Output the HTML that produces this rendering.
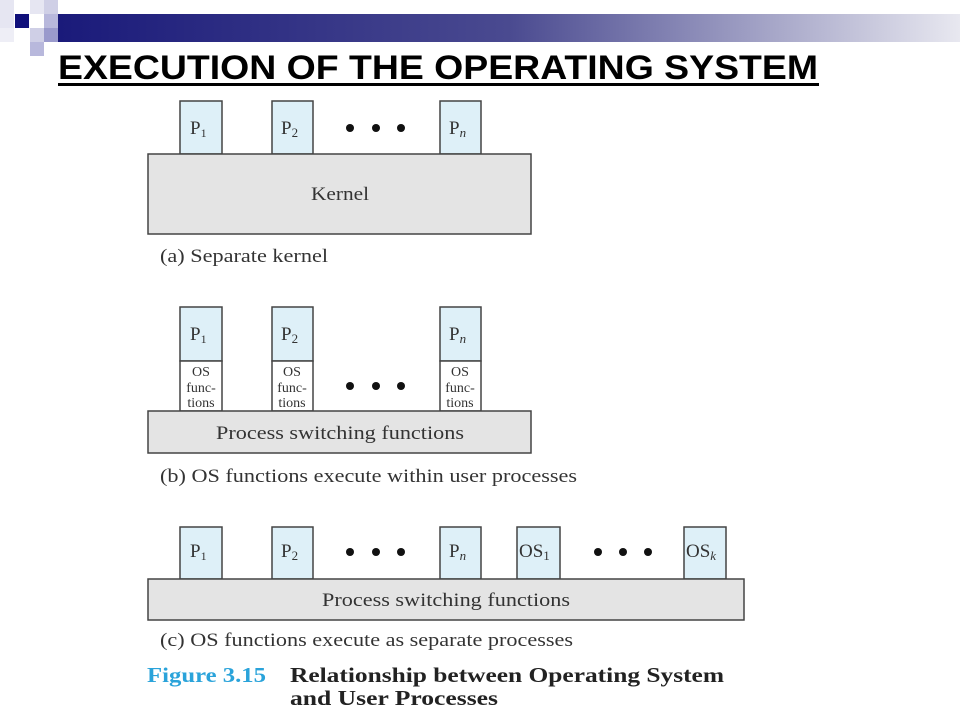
<!DOCTYPE html>
<html><head><meta charset="utf-8"><style>
html,body{margin:0;padding:0;background:#fff;}
svg{display:block}
</style></head><body>
<svg width="960" height="720" viewBox="0 0 960 720" xmlns="http://www.w3.org/2000/svg">
<defs>
<linearGradient id="g" x1="0" x2="1" y1="0" y2="0">
<stop offset="0" stop-color="#1a1a7a"/>
<stop offset="0.5" stop-color="#4a4a90"/>
<stop offset="1" stop-color="#e8e8f0"/>
</linearGradient>
</defs>
<rect x="58" y="14" width="902" height="28" fill="url(#g)"/>
<rect x="0" y="0" width="14" height="14" fill="#e6e6f2"/>
<rect x="30" y="0" width="14" height="14" fill="#e6e6f2"/>
<rect x="44" y="0" width="14" height="14" fill="#cfcfe6"/>
<rect x="0" y="14" width="14" height="14" fill="#e6e6f2"/>
<rect x="15" y="14" width="14" height="14" fill="#10107a"/>
<rect x="44" y="14" width="14" height="14" fill="#b8b8dc"/>
<rect x="30" y="28" width="14" height="14" fill="#cfcfe6"/>
<rect x="44" y="28" width="14" height="14" fill="#9a9acc"/>
<rect x="30" y="42" width="14" height="14" fill="#b8b8dc"/>
<rect x="0" y="28" width="14" height="14" fill="#eeeef6"/>
<text x="58" y="79" font-family="Liberation Sans, sans-serif" font-weight="bold" font-size="34" fill="#000" textLength="760" lengthAdjust="spacingAndGlyphs">EXECUTION OF THE OPERATING SYSTEM</text>
<rect x="58" y="83" width="761" height="3" fill="#000"/>

<g font-family="Liberation Serif, serif" fill="#333" stroke="none">
<!-- (a) -->
<g stroke="#444" stroke-width="1.5">
<rect x="180" y="101" width="42" height="53" fill="#def0f8"/>
<rect x="272" y="101" width="41" height="53" fill="#def0f8"/>
<rect x="440" y="101" width="41" height="53" fill="#def0f8"/>
<rect x="148" y="154" width="383" height="80" fill="#e4e4e4"/>
</g>
<text x="190" y="134" font-size="19">P<tspan font-size="12" dy="3">1</tspan></text>
<text x="281" y="134" font-size="19">P<tspan font-size="13" dy="3">2</tspan></text>
<text x="449" y="134" font-size="19">P<tspan font-size="13" dy="3" font-style="italic">n</tspan></text>
<circle cx="350" cy="128" r="4" fill="#111"/><circle cx="376" cy="128" r="4" fill="#111"/><circle cx="401" cy="128" r="4" fill="#111"/>
<text x="311" y="200" font-size="19" textLength="58" lengthAdjust="spacingAndGlyphs">Kernel</text>
<text x="160" y="262" font-size="19" textLength="168" lengthAdjust="spacingAndGlyphs">(a) Separate kernel</text>

<!-- (b) -->
<g stroke="#444" stroke-width="1.5">
<rect x="180" y="307" width="42" height="54" fill="#def0f8"/>
<rect x="272" y="307" width="41" height="54" fill="#def0f8"/>
<rect x="440" y="307" width="41" height="54" fill="#def0f8"/>
<rect x="180" y="361" width="42" height="50" fill="#fff"/>
<rect x="272" y="361" width="41" height="50" fill="#fff"/>
<rect x="440" y="361" width="41" height="50" fill="#fff"/>
<rect x="148" y="411" width="383" height="42" fill="#e4e4e4"/>
</g>
<text x="190" y="340" font-size="19">P<tspan font-size="12" dy="3">1</tspan></text>
<text x="281" y="340" font-size="19">P<tspan font-size="13" dy="3">2</tspan></text>
<text x="449" y="340" font-size="19">P<tspan font-size="13" dy="3" font-style="italic">n</tspan></text>
<g font-size="14" text-anchor="middle">
<text x="201" y="376">OS</text><text x="201" y="392">func-</text><text x="201" y="407">tions</text>
<text x="292" y="376">OS</text><text x="292" y="392">func-</text><text x="292" y="407">tions</text>
<text x="460" y="376">OS</text><text x="460" y="392">func-</text><text x="460" y="407">tions</text>
</g>
<circle cx="350" cy="386" r="4" fill="#111"/><circle cx="376" cy="386" r="4" fill="#111"/><circle cx="401" cy="386" r="4" fill="#111"/>
<text x="216" y="439" font-size="19" textLength="248" lengthAdjust="spacingAndGlyphs">Process switching functions</text>
<text x="160" y="482" font-size="19" textLength="417" lengthAdjust="spacingAndGlyphs">(b) OS functions execute within user processes</text>

<!-- (c) -->
<g stroke="#444" stroke-width="1.5">
<rect x="180" y="527" width="42" height="52" fill="#def0f8"/>
<rect x="272" y="527" width="41" height="52" fill="#def0f8"/>
<rect x="440" y="527" width="41" height="52" fill="#def0f8"/>
<rect x="517" y="527" width="43" height="52" fill="#def0f8"/>
<rect x="684" y="527" width="42" height="52" fill="#def0f8"/>
<rect x="148" y="579" width="596" height="41" fill="#e4e4e4"/>
</g>
<text x="190" y="557" font-size="19">P<tspan font-size="12" dy="3">1</tspan></text>
<text x="281" y="557" font-size="19">P<tspan font-size="13" dy="3">2</tspan></text>
<text x="449" y="557" font-size="19">P<tspan font-size="13" dy="3" font-style="italic">n</tspan></text>
<text x="519" y="557" font-size="19">OS<tspan font-size="13" dy="3">1</tspan></text>
<text x="686" y="557" font-size="19">OS<tspan font-size="13" dy="3" font-style="italic">k</tspan></text>
<circle cx="350" cy="552" r="4" fill="#111"/><circle cx="376" cy="552" r="4" fill="#111"/><circle cx="401" cy="552" r="4" fill="#111"/>
<circle cx="598" cy="552" r="4" fill="#111"/><circle cx="623" cy="552" r="4" fill="#111"/><circle cx="648" cy="552" r="4" fill="#111"/>
<text x="322" y="606" font-size="19" textLength="248" lengthAdjust="spacingAndGlyphs">Process switching functions</text>
<text x="160" y="646" font-size="19" textLength="413" lengthAdjust="spacingAndGlyphs">(c) OS functions execute as separate processes</text>

<text x="147" y="682" font-size="21" font-weight="bold" fill="#2aa3da" textLength="119" lengthAdjust="spacingAndGlyphs">Figure 3.15</text>
<text x="290" y="682" font-size="21" font-weight="bold" fill="#222" textLength="434" lengthAdjust="spacingAndGlyphs">Relationship between Operating System</text>
<text x="290" y="705" font-size="21" font-weight="bold" fill="#222" textLength="208" lengthAdjust="spacingAndGlyphs">and User Processes</text>
</g>
</svg>
</body></html>
